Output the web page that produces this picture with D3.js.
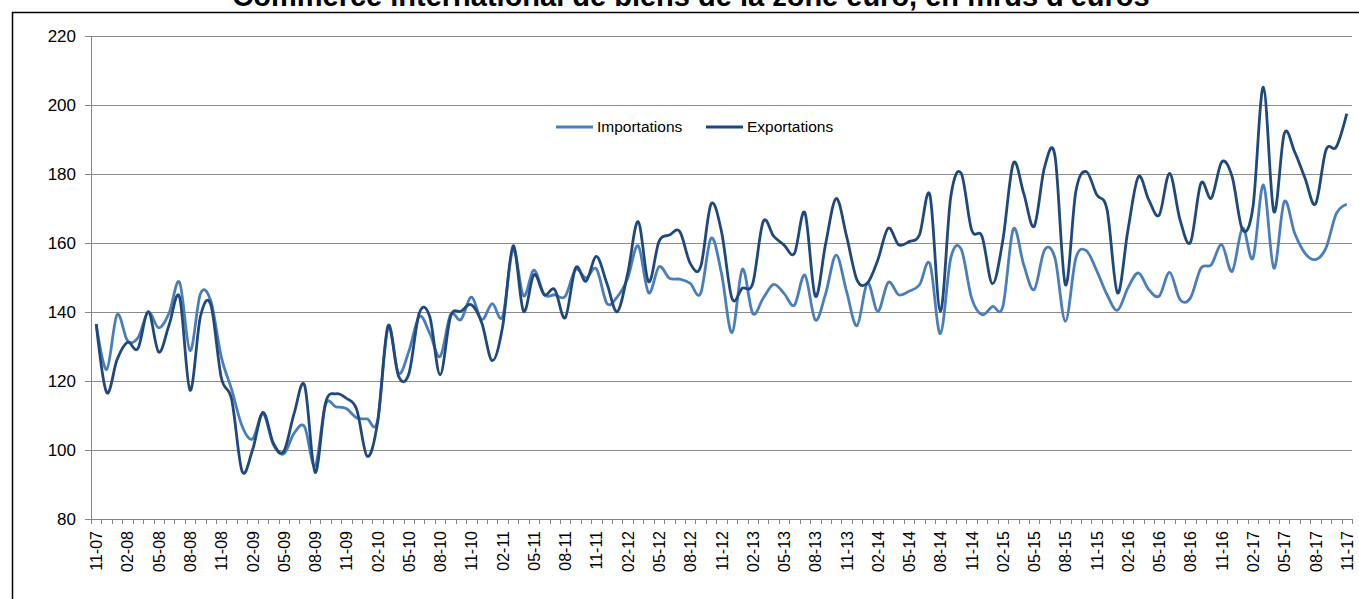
<!DOCTYPE html>
<html>
<head>
<meta charset="utf-8">
<script src="https://cdn.jsdelivr.net/npm/d3@7"></script>
<style>
body { margin:0; background:#fff; }
text { font-family: Arial, "Liberation Sans", sans-serif; fill:#000; }
.grid line { stroke:#8c8c8c; stroke-width:1; }
.axis path, .axis line { stroke:#868686; stroke-width:1; shape-rendering:crispEdges; }
.imp { fill:none; stroke:#4a7ebb; stroke-width:2.8; }
.exp { fill:none; stroke:#1f497d; stroke-width:2.8; }
</style>
</head>
<body>
<script>
var months = [
  "11-07","12-07",
  "01-08","02-08","03-08","04-08","05-08","06-08","07-08","08-08","09-08","10-08","11-08","12-08",
  "01-09","02-09","03-09","04-09","05-09","06-09","07-09","08-09","09-09","10-09","11-09","12-09",
  "01-10","02-10","03-10","04-10","05-10","06-10","07-10","08-10","09-10","10-10","11-10","12-10",
  "01-11","02-11","03-11","04-11","05-11","06-11","07-11","08-11","09-11","10-11","11-11","12-11",
  "01-12","02-12","03-12","04-12","05-12","06-12","07-12","08-12","09-12","10-12","11-12","12-12",
  "01-13","02-13","03-13","04-13","05-13","06-13","07-13","08-13","09-13","10-13","11-13","12-13",
  "01-14","02-14","03-14","04-14","05-14","06-14","07-14","08-14","09-14","10-14","11-14","12-14",
  "01-15","02-15","03-15","04-15","05-15","06-15","07-15","08-15","09-15","10-15","11-15","12-15",
  "01-16","02-16","03-16","04-16","05-16","06-16","07-16","08-16","09-16","10-16","11-16","12-16",
  "01-17","02-17","03-17","04-17","05-17","06-17","07-17","08-17","09-17","10-17","11-17"
];

var importations = [
  136.5,123.3,
  139.2,131.7,132.5,139.9,135.4,139.7,148.6,128.8,145.3,143.1,127.0,117.5,
  106.9,103.2,110.5,101.5,98.9,104.9,106.7,95.3,113.1,112.5,112.0,109.3,
  109.0,108.5,135.4,122.3,128.6,138.7,133.9,127.1,139.2,137.8,144.3,137.8,
  142.4,138.7,158.1,144.7,152.1,145.0,145.0,144.5,152.3,149.9,152.5,142.5,
  144.4,149.8,159.2,145.6,153.1,149.8,149.5,148.3,145.4,161.4,151.2,134.0,
  152.4,139.6,144.0,148.0,145.4,142.0,150.7,137.7,145.4,156.5,146.0,136.0,
  148.4,140.2,148.6,145.0,146.0,147.9,154.0,133.7,155.6,158.2,144.0,139.2,
  141.6,141.6,164.0,153.7,146.5,158.0,155.6,137.3,155.6,157.8,152.0,145.0,
  140.5,147.0,151.3,146.5,144.6,151.5,143.6,144.1,152.7,153.7,159.5,151.8,
  164.3,155.6,176.8,152.7,172.0,162.8,157.0,155.2,158.5,168.6,171.2
];

var exportations = [
  136.5,116.7,
  126.2,131.2,129.4,140.1,128.4,136.3,144.3,117.3,138.7,142.1,121.0,114.6,
  93.8,100.0,110.9,102.0,99.6,110.7,118.7,93.5,113.6,116.3,115.0,111.7,
  98.2,108.0,136.0,121.5,122.1,139.7,138.7,121.8,138.7,140.2,142.1,136.8,
  125.9,135.8,159.2,140.2,150.8,145.0,146.5,138.3,152.8,148.9,156.1,148.3,
  140.1,151.2,166.2,148.8,160.4,162.3,163.3,154.1,153.1,171.3,163.3,144.0,
  146.9,148.3,166.2,162.0,159.4,157.0,168.8,144.6,159.9,172.9,162.0,149.3,
  148.4,155.1,164.3,159.5,160.4,162.4,173.9,140.2,173.4,180.2,163.8,161.9,
  148.2,160.9,183.1,174.4,164.8,182.0,185.2,147.9,174.9,180.7,174.0,169.6,
  145.5,163.8,179.2,172.5,168.1,180.2,166.7,160.2,177.3,173.0,183.5,179.2,
  163.8,170.5,205.2,169.1,191.7,186.4,178.7,171.3,186.9,187.9,197.5
];

var yTicks = [80,100,120,140,160,180,200,220];
var seriesNames = ["Importations","Exportations"];
var title = "Commerce international de biens de la zone euro, en mrds d'euros";

var loadFrame = function(svg){
    svg.append("rect")
        .attr("x",12.5).attr("y",12.5)
        .attr("width",1400).attr("height",700)
        .attr("fill","none")
        .attr("stroke","#000")
        .attr("stroke-width",1.5);
    svg.append("text")
        .attr("x",691).attr("y",6)
        .attr("text-anchor","middle")
        .style("font-weight","bold")
        .style("font-size","29px")
        .text(title);
}

var loadGrid = function(svg,xScale,yScale){
    svg.append("g").classed("grid",true)
        .selectAll("line").data(yTicks.slice(1)).enter().append("line")
        .attr("x1",xScale.range()[0]).attr("x2",xScale.range()[1])
        .attr("y1",function(d){return Math.round(yScale(d))+0.5;})
        .attr("y2",function(d){return Math.round(yScale(d))+0.5;});
}

var loadAxis = function(svg,xScale,yScale){
    var yAxis = d3.axisLeft(yScale).tickValues(yTicks).tickSize(6).tickPadding(9);
    var gy = svg.append("g").classed("axis",true)
        .attr("transform","translate(91,0)")
        .call(yAxis);
    gy.selectAll("text").style("font-size","17px");

    var gx = svg.append("g").classed("axis",true)
        .attr("transform","translate(0,"+yScale(80)+")");
    gx.append("line")
        .attr("x1",xScale.range()[0]).attr("x2",xScale.range()[1]);
    var bounds = months.map(function(m){return xScale(m);}).concat([xScale.range()[1]]);
    gx.selectAll("line.tk").data(bounds).enter().append("line")
        .classed("tk",true)
        .attr("x1",function(d){return Math.round(d)+0.5;})
        .attr("x2",function(d){return Math.round(d)+0.5;})
        .attr("y1",0).attr("y2",5);
    gx.selectAll("text").data(months.filter(function(m,i){return i%3==0;})).enter().append("text")
        .attr("transform",function(d){
            return "translate("+(xScale(d)+xScale.bandwidth()/2+6)+",12) rotate(-90)";
        })
        .attr("text-anchor","end")
        .style("font-size","16px")
        .text(function(d){return d;});
}

var loadLines = function(svg,xScale,yScale){
    var line = d3.line()
        .x(function(d,i){return xScale(months[i])+xScale.bandwidth()/2;})
        .y(function(d){return yScale(d);})
        .curve(d3.curveCatmullRom.alpha(0));
    svg.append("path").datum(importations).classed("imp",true).attr("d",line);
    svg.append("path").datum(exportations).classed("exp",true).attr("d",line);
}

var loadLegend = function(svg){
    var lg = svg.append("g");
    var xs = [556,706];
    seriesNames.forEach(function(n,i){
        lg.append("line")
            .attr("x1",xs[i]).attr("x2",xs[i]+37)
            .attr("y1",127).attr("y2",127)
            .classed(i==0?"imp":"exp",true)
            .style("stroke-width",2.8);
        lg.append("text")
            .attr("x",xs[i]+41).attr("y",132)
            .style("font-size","15.5px")
            .text(n);
    });
}

var loadGraph = function(){
    var xScale = d3.scaleBand().domain(months).range([91,1352]);
    var yScale = d3.scaleLinear().domain([80,220]).range([519,36]);
    var svg = d3.select("body").append("svg")
        .attr("width",1359)
        .attr("height",599);
    loadFrame(svg);
    loadGrid(svg,xScale,yScale);
    loadAxis(svg,xScale,yScale);
    loadLines(svg,xScale,yScale);
    loadLegend(svg);
}

window.onload = loadGraph;
</script>
</body>
</html>
